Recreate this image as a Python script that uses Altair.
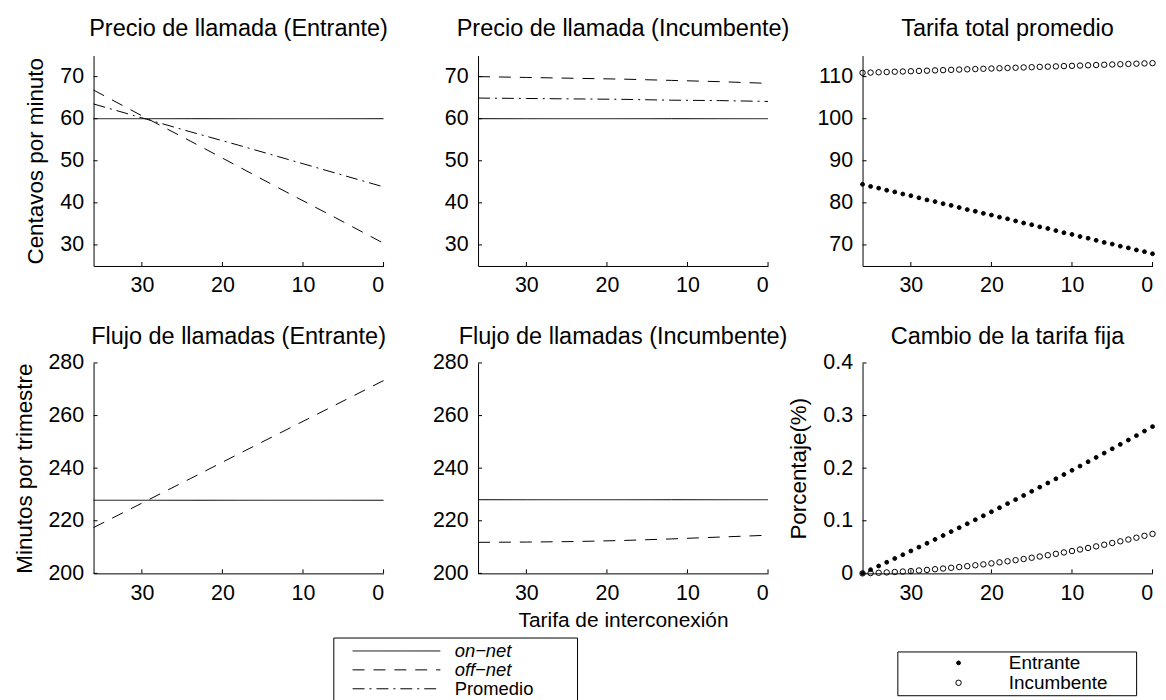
import altair as alt
import pandas as pd

# ---------------- data ----------------
tarifa_lineas = [36, 30, 24, 18, 12, 6, 0]
tarifa_puntos = [36, 35, 34, 33, 32, 31, 30, 29, 28, 27, 26, 25, 24, 23, 22, 21, 20, 19,
                 18, 17, 16, 15, 14, 13, 12, 11, 10, 9, 8, 7, 6, 5, 4, 3, 2, 1, 0]

series_lineas = ["on\u2212net", "off\u2212net", "Promedio"]
series_puntos = ["Entrante", "Incumbente"]

precio_ent_on = [60.0, 60.0, 60.0, 60.0, 60.0, 60.0, 60.0]
precio_ent_off = [66.8, 60.7, 54.7, 48.6, 42.5, 36.5, 30.4]
precio_ent_prom = [63.5, 60.2, 56.9, 53.7, 50.4, 47.1, 43.8]

precio_inc_on = [60.0, 60.0, 60.0, 60.0, 60.0, 60.0, 60.0]
precio_inc_off = [70.0, 69.8, 69.6, 69.4, 69.1, 68.8, 68.4]
precio_inc_prom = [64.9, 64.8, 64.7, 64.6, 64.4, 64.3, 64.1]

flujo_ent_on = [227.8, 227.8, 227.8, 227.8, 227.8, 227.8, 227.8]
flujo_ent_off = [217.4, 226.7, 236.0, 245.4, 254.7, 264.0, 273.3]

flujo_inc_on = [228.0, 228.0, 228.0, 228.0, 228.0, 228.0, 228.0]
flujo_inc_off = [211.8, 211.9, 212.1, 212.5, 213.1, 213.8, 214.5]

tarifa_total_ent = [84.4, 83.9, 83.5, 83.0, 82.6, 82.1, 81.7, 81.2, 80.7, 80.3, 79.8, 79.4,
                    78.9, 78.4, 78.0, 77.5, 77.1, 76.6, 76.2, 75.7, 75.2, 74.8, 74.3, 73.9,
                    73.4, 72.9, 72.5, 72.0, 71.6, 71.1, 70.6, 70.2, 69.7, 69.3, 68.8, 68.4, 67.9]
tarifa_total_inc = [110.90, 110.96, 111.03, 111.09, 111.16, 111.22, 111.28, 111.35, 111.41,
                    111.48, 111.54, 111.60, 111.67, 111.73, 111.79, 111.86, 111.92, 111.99,
                    112.05, 112.11, 112.18, 112.24, 112.31, 112.37, 112.43, 112.50, 112.56,
                    112.62, 112.69, 112.75, 112.82, 112.88, 112.94, 113.01, 113.07, 113.14, 113.20]

cambio_ent = [0.0, 0.0070, 0.0140, 0.0211, 0.0283, 0.0354, 0.0426, 0.0499, 0.0572, 0.0645,
              0.0719, 0.0794, 0.0868, 0.0943, 0.1019, 0.1095, 0.1171, 0.1248, 0.1326, 0.1403,
              0.1481, 0.1560, 0.1639, 0.1718, 0.1798, 0.1879, 0.1959, 0.2040, 0.2122, 0.2204,
              0.2286, 0.2369, 0.2452, 0.2535, 0.2619, 0.2705, 0.2790]
cambio_inc = [0.0, 0.0005, 0.0011, 0.0018, 0.0026, 0.0035, 0.0044, 0.0055, 0.0066, 0.0079,
              0.0092, 0.0106, 0.0121, 0.0137, 0.0154, 0.0171, 0.0190, 0.0210, 0.0230, 0.0251,
              0.0273, 0.0297, 0.0320, 0.0345, 0.0371, 0.0398, 0.0425, 0.0454, 0.0483, 0.0513,
              0.0544, 0.0577, 0.0610, 0.0643, 0.0678, 0.0714, 0.0750]

ticks_x = [30, 20, 10, 0]
ticks_precio = [30, 40, 50, 60, 70]
ticks_tarifa = [70, 80, 90, 100, 110]
ticks_flujo = [200, 220, 240, 260, 280]
ticks_cambio = [0, 0.1, 0.2, 0.3, 0.4]

# ---------------- style ----------------
FONT = "Liberation Sans"
W, H = 291.5, 211.5
TICK = 4
dashes = [[1, 0], [12, 9], [12, 5, 2, 5]]


def frame(x, names, arrays):
    rows = []
    for name, arr in zip(names, arrays):
        for xv, yv in zip(x, arr):
            rows.append({"tarifa": xv, "valor": yv, "serie": name})
    return pd.DataFrame(rows)


def panel(df, kind, title, ydom, yticks, ytitle=None, xtitle=None, legend=None,
          title_offset=15, ylabel_expr=None):
    xs = alt.Scale(domain=[0, 36], reverse=True, nice=False, zero=False)
    ys = alt.Scale(domain=ydom, nice=False, zero=False)
    x = alt.X("tarifa:Q", scale=xs, title=xtitle,
              axis=alt.Axis(values=ticks_x, ticks=False, labelPadding=9, titlePadding=6,
                            titleFontSize=21))
    yaxis_kw = dict(values=yticks, ticks=False, labelPadding=10, titlePadding=12)
    if ylabel_expr:
        yaxis_kw["labelExpr"] = ylabel_expr
    y = alt.Y("valor:Q", scale=ys, title=ytitle, axis=alt.Axis(**yaxis_kw))
    base = alt.Chart(df)
    if kind == "line":
        main = base.mark_line(color="black", strokeWidth=1).encode(
            x=x, y=y,
            strokeDash=alt.StrokeDash("serie:N",
                                      scale=alt.Scale(domain=series_lineas, range=dashes),
                                      legend=legend),
        )
    else:
        main = base.mark_point(shape="circle", strokeWidth=1, opacity=1).encode(
            x=x, y=y,
            fill=alt.Fill("serie:N", scale=alt.Scale(domain=series_puntos,
                                                     range=["black", "transparent"]),
                          legend=legend),
            stroke=alt.Stroke("serie:N", scale=alt.Scale(domain=series_puntos,
                                                         range=["black", "black"]),
                              legend=legend),
            size=alt.Size("serie:N", scale=alt.Scale(domain=series_puntos, range=[15, 30]),
                          legend=legend),
        )
    xt = alt.Chart(pd.DataFrame({"tarifa": ticks_x})).mark_rule(
        color="black", strokeWidth=1).encode(x=x, y=alt.value(H), y2=alt.value(H - TICK))
    yt = alt.Chart(pd.DataFrame({"valor": yticks})).mark_rule(
        color="black", strokeWidth=1).encode(y=y, x=alt.value(0), x2=alt.value(TICK))
    return alt.layer(main, xt, yt).properties(
        width=W, height=H, title=alt.Title(title, offset=title_offset))


legend_lineas = alt.Legend(
    orient="none", legendX=241, legendY=276, direction="vertical",
    title="\u00a0", titleOrient="right", titlePadding=40, titleFontSize=10,
    symbolType="M-4.9,0H4.9", symbolSize=324, symbolStrokeWidth=1,
    symbolStrokeColor="black", symbolFillColor="transparent",
    symbolOffset=50, labelOffset=49, padding=4, rowPadding=0,
    labelFont=FONT, labelFontSize=18.5, labelColor="black",
    strokeColor="black", fillColor="white",
    labelFontStyle=alt.ExprRef(expr="datum.label == 'Promedio' ? 'normal' : 'italic'"),
)

legend_puntos = alt.Legend(
    orient="none", legendX=35, legendY=290, direction="vertical",
    title="\u00a0", titleOrient="right", titlePadding=27, titleFontSize=10,
    symbolStrokeWidth=1,
    symbolOffset=50, labelOffset=41, padding=2, rowPadding=0,
    labelFont=FONT, labelFontSize=19, labelColor="black",
    strokeColor="black", fillColor="white",
)

p1 = panel(frame(tarifa_lineas, series_lineas, [precio_ent_on, precio_ent_off, precio_ent_prom]),
           "line", "Precio de llamada (Entrante)", [25, 75], ticks_precio,
           ytitle="Centavos por minuto")
p2 = panel(frame(tarifa_lineas, series_lineas, [precio_inc_on, precio_inc_off, precio_inc_prom]),
           "line", "Precio de llamada (Incumbente)", [25, 75], ticks_precio)
p3 = panel(frame(tarifa_puntos, series_puntos, [tarifa_total_ent, tarifa_total_inc]),
           "point", "Tarifa total promedio", [65, 115], ticks_tarifa)
p4 = panel(frame(tarifa_lineas, series_lineas[:2], [flujo_ent_on, flujo_ent_off]),
           "line", "Flujo de llamadas (Entrante)", [200, 280], ticks_flujo,
           ytitle="Minutos por trimestre", legend=legend_lineas, title_offset=3)
p5 = panel(frame(tarifa_lineas, series_lineas[:2], [flujo_inc_on, flujo_inc_off]),
           "line", "Flujo de llamadas (Incumbente)", [200, 280], ticks_flujo,
           xtitle="Tarifa de interconexión", title_offset=3)
p6 = panel(frame(tarifa_puntos, series_puntos, [cambio_ent, cambio_inc]),
           "point", "Cambio de la tarifa fija", [0, 0.4], ticks_cambio,
           ytitle="Porcentaje(%)", legend=legend_puntos, title_offset=3,
           ylabel_expr="datum.value == 0 ? '0' : format(datum.value, '.1f')")

indep = dict(strokeDash="independent", fill="independent", size="independent",
             stroke="independent")

chart = alt.concat(p1, p2, p3, p4, p5, p6, columns=3, bounds="flush",
                   spacing={"row": 97, "column": 94.5}).resolve_scale(
    **indep).resolve_legend(**indep).properties(
    padding={"left": 5, "top": 7, "right": 0, "bottom": 0},
).configure_view(stroke=None).configure_axis(
    grid=False, domainColor="black", domainWidth=1,
    labelFont=FONT, labelFontSize=21.5, labelColor="black",
    titleFont=FONT, titleFontSize=22.5, titleFontWeight="normal", titleColor="black",
).configure_title(
    font=FONT, fontSize=23.6, fontWeight="normal", color="black", offset=15,
)

chart.save("out.html", embed_options={"renderer": "svg", "actions": False})
